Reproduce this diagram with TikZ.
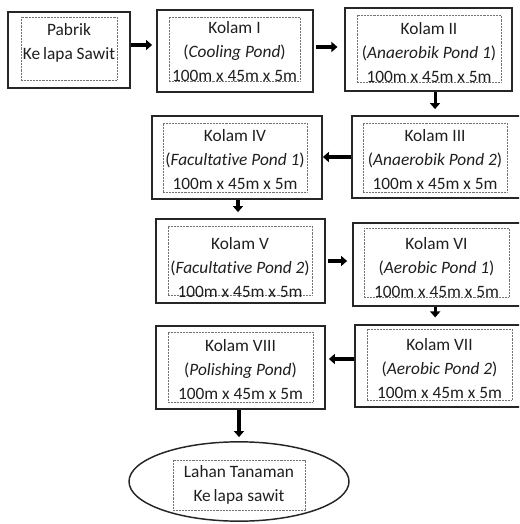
\documentclass[tikz,border=0pt]{standalone}
\usepackage{fontspec}
\setmainfont[Ligatures=NoCommon]{Carlito}
\usetikzlibrary{arrows.meta,shapes.geometric}
\tikzset{
  outerbox/.style={draw=black!85, line width=1.35pt, fill=white, inner sep=0pt},
  innerbox/.style={draw=black!55, dash pattern=on 0.5pt off 0.6pt, line width=0.7pt, inner sep=0pt},
  lbl/.style={text=black!88, align=center, inner sep=0pt, font=\fontsize{13}{18}\selectfont},
  flow/.style={line width=2.3pt, -{Triangle[length=4.5pt,width=7.5pt]}},
  pond/.style={draw=black!85, line width=1.1pt, ellipse, inner sep=0pt}
}
\begin{document}
\begin{tikzpicture}[x=0.75pt,y=-0.75pt]
\useasboundingbox (0,0) rectangle (519,524);
\clip (0,0) rectangle (519,524);
% outer boxes
\node[outerbox, minimum width=91.5pt, minimum height=57pt] (P) at (69,50) {};
\node[outerbox, minimum width=117pt, minimum height=61.5pt] (K1) at (235,51) {};
\node[outerbox, minimum width=125.25pt, minimum height=62.25pt] (K2) at (428.5,49.5) {};
\node[outerbox, minimum width=131.25pt, minimum height=61.5pt] (K3) at (439.5,157) {};
\node[outerbox, minimum width=127.5pt, minimum height=62.25pt] (K4) at (237,157.5) {};
\node[outerbox, minimum width=126.75pt, minimum height=63pt] (K5) at (240.5,261) {};
\node[outerbox, minimum width=131.25pt, minimum height=62.25pt] (K6) at (440.5,264.5) {};
\node[outerbox, minimum width=131.25pt, minimum height=61.5pt] (K7) at (442.5,366) {};
\node[outerbox, minimum width=126.75pt, minimum height=62.25pt] (K8) at (240.5,367.5) {};
\node[pond, minimum width=165pt, minimum height=59.5pt] (E) at (239,481.5) {};
% inner dotted boxes
\node[innerbox, minimum width=72pt, minimum height=47.25pt] (Pi) at (69,48.5) {};
\node[innerbox, minimum width=98.25pt, minimum height=48pt] (K1i) at (234.5,49) {};
\node[innerbox, minimum width=108pt, minimum height=50.25pt] (K2i) at (429,48.5) {};
\node[innerbox, minimum width=108pt, minimum height=51.75pt] (K3i) at (435,157.5) {};
\node[innerbox, minimum width=108pt, minimum height=51.75pt] (K4i) at (235,157.5) {};
\node[innerbox, minimum width=108pt, minimum height=51.75pt] (K5i) at (240,260.5) {};
\node[innerbox, minimum width=108.75pt, minimum height=51.75pt] (K6i) at (436.5,262.5) {};
\node[innerbox, minimum width=108.75pt, minimum height=53.25pt] (K7i) at (439.5,364.5) {};
\node[innerbox, minimum width=108.75pt, minimum height=52.5pt] (K8i) at (240.5,367) {};
\node[innerbox, minimum width=99pt, minimum height=37.5pt] (Ei) at (239,485) {};
% texts
\node[lbl] (Pt) at (69,42.5) {Pabrik\\Ke\,lapa Sawit};
\node[lbl] (K1t) at (234.5,52) {Kolam I\\(\textit{Cooling Pond})\\100m x 45m x 5m};
\node[lbl] (K2t) at (429,52.5) {Kolam II\\(\textit{Anaerobik Pond 1})\\100m x 45m x 5m};
\node[lbl] (K3t) at (435,159.5) {Kolam III\\(\textit{Anaerobik Pond 2})\\100m x 45m x 5m};
\node[lbl] (K4t) at (235,159.5) {Kolam IV\\(\textit{Facultative Pond 1})\\100m x 45m x 5m};
\node[lbl] (K5t) at (240,267.5) {Kolam V\\(\textit{Facultative Pond 2})\\100m x 45m x 5m};
\node[lbl] (K6t) at (436.5,267.5) {Kolam VI\\(\textit{Aerobic Pond 1})\\100m x 45m x 5m};
\node[lbl] (K7t) at (439.5,369) {Kolam VII\\(\textit{Aerobic Pond 2})\\100m x 45m x 5m};
\node[lbl] (K8t) at (240.5,370) {Kolam VIII\\(\textit{Polishing Pond})\\100m x 45m x 5m};
\node[lbl] (Et) at (239,484.5) {Lahan Tanaman\\Ke\,lapa sawit};
% connectors
\draw[flow, shorten >=3pt] ([yshift=3.75pt]P.east) -- ([yshift=3.75pt]P.east -| K1.west);
\draw[flow, shorten >=5pt, shorten <=1.5pt] ([yshift=3pt]K1.east) -- ([yshift=3pt]K1.east -| K2.west);
\draw[flow, shorten >=4.5pt] ([xshift=4.9pt]K2.south) -- ([xshift=4.9pt]K2.south |- K3.north);
\draw[flow] (K3.west) -- (K3.west -| K4.east);
\draw[flow, shorten >=4.5pt] ([xshift=0.75pt]K4.south) -- ([xshift=0.75pt]K4.south |- K5.north);
\draw[flow, shorten <=1.5pt, shorten >=3.75pt] (K5.east) -- (K5.east -| K6.west);
\draw[flow, shorten >=5pt] ([xshift=-4pt]K6.south) -- ([xshift=-4pt]K6.south |- K7.north);
\draw[flow, shorten >=2.25pt] ([yshift=5.25pt]K7.west) -- ([yshift=5.25pt]K7.west -| K8.east);
\draw[flow, shorten >=3pt] (E.north |- K8.south) -- (E.north);
\end{tikzpicture}
\end{document}
